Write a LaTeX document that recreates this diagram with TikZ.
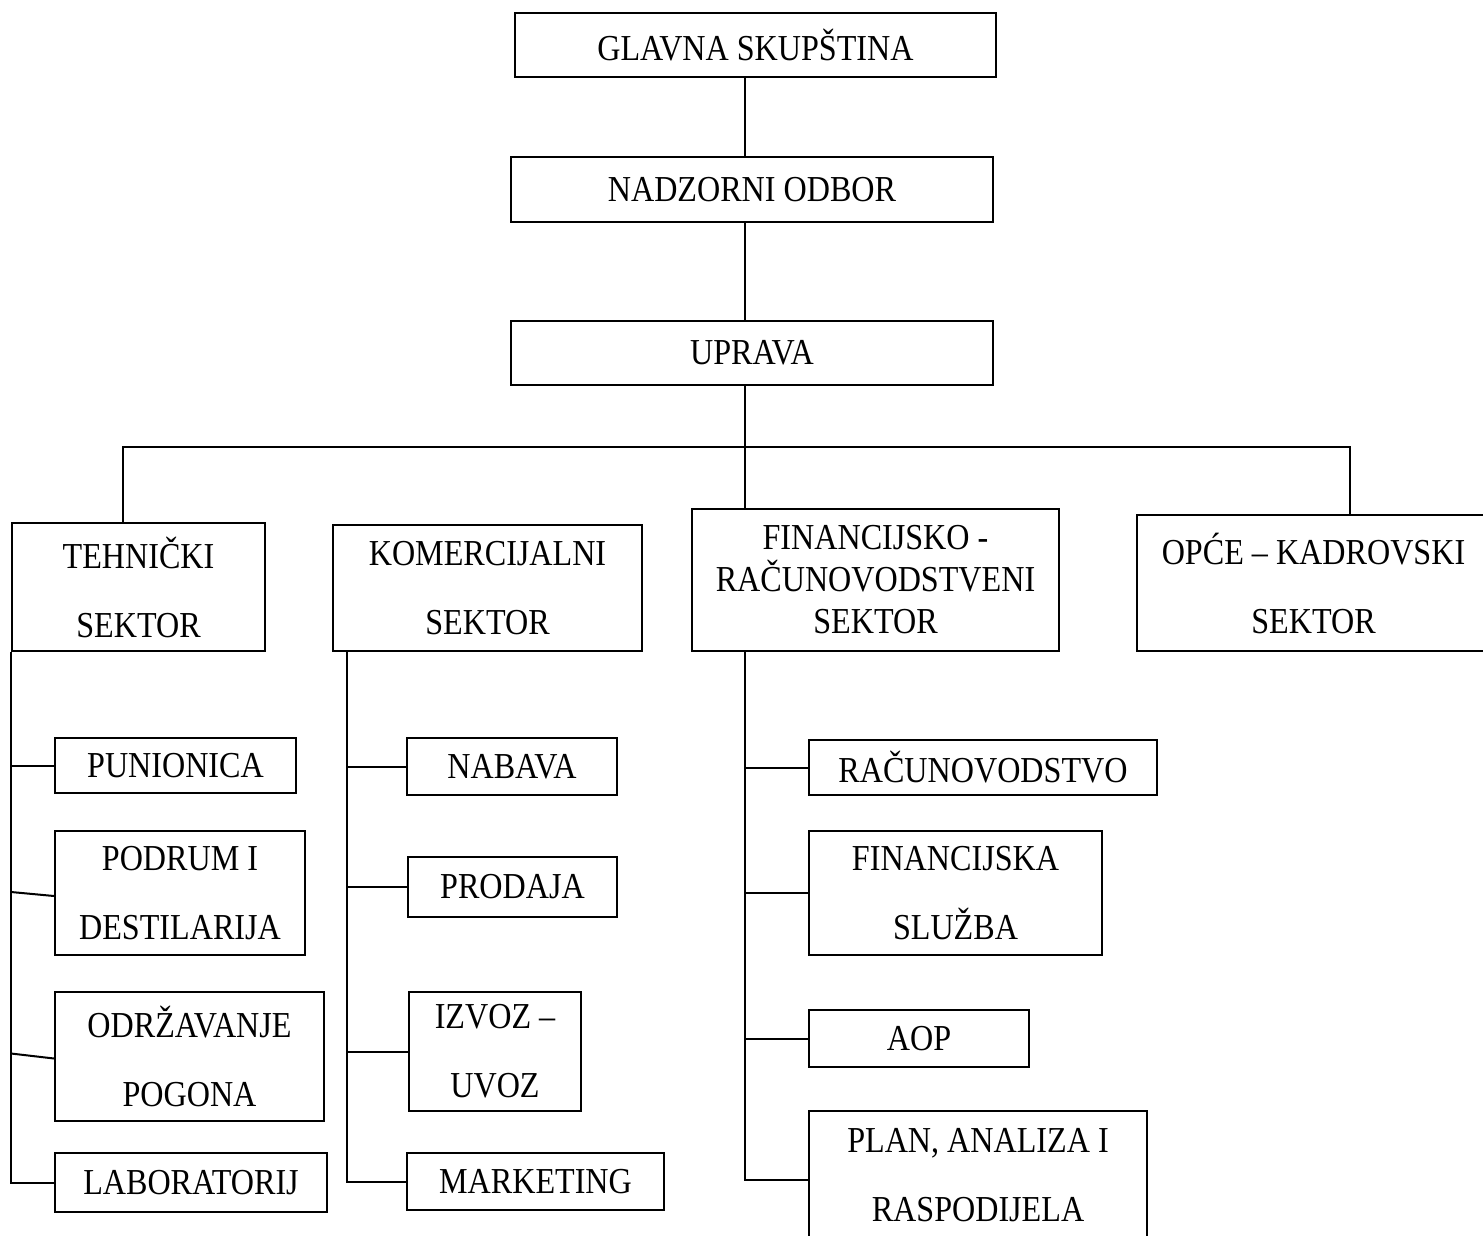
\documentclass[tikz,border=0pt]{standalone}
\usepackage{graphicx}
\usepackage{fontspec}
\setmainfont{Liberation Serif}
\newcommand{\sx}[1]{\scalebox{1.02}[1.16]{#1}}
\begin{document}
\begin{tikzpicture}[x=1pt,y=-1pt,
  box/.style={draw, line width=2pt, inner sep=0pt, align=center, font=\fontsize{31.5}{69}\selectfont},
  conn/.style={line width=2pt}]
\useasboundingbox (0,0) rectangle (1483,1236);
\clip (0,0) rectangle (1483,1236);
\fill[white] (0,0) rectangle (1483,1236);
% top
\node[box, minimum width=481pt, minimum height=64pt] (glavna) at (755.5,45) {\sx{GLAVNA SKUPŠTINA}};
\node[box, minimum width=482pt, minimum height=65pt] (nadzorni) at (752,189.5) {\sx{NADZORNI ODBOR}};
\node[box, minimum width=482pt, minimum height=64pt] (uprava) at (752,353) {\sx{UPRAVA}};
% sectors
\node[box, minimum width=253pt, minimum height=128pt] (tech) at (138.5,587) {\sx{TEHNIČKI}\\\sx{SEKTOR}};
\node[box, minimum width=309pt, minimum height=126pt] (kom) at (487.5,588) {\sx{KOMERCIJALNI}\\\sx{SEKTOR}};
\node[box, minimum width=367pt, minimum height=142pt, font=\fontsize{31.5}{42}\selectfont] (fin) at (875.5,580) {\sx{FINANCIJSKO -}\\\sx{RAČUNOVODSTVENI}\\\sx{SEKTOR}};
\node[box, minimum width=353pt, minimum height=136pt] (opce) at (1313.5,583) {\sx{OPĆE – KADROVSKI}\\\sx{SEKTOR}};
% technical
\node[box, minimum width=241pt, minimum height=55pt] (pun) at (175.5,765.5) {\sx{PUNIONICA}};
\node[box, minimum width=250pt, minimum height=124pt] (pod) at (180,893) {\sx{PODRUM I}\\\sx{DESTILARIJA}};
\node[box, minimum width=269pt, minimum height=129pt] (odr) at (189.5,1056.5) {\sx{ODRŽAVANJE}\\\sx{POGONA}};
\node[box, minimum width=272pt, minimum height=59pt] (lab) at (191,1182.5) {\sx{LABORATORIJ}};
% commercial
\node[box, minimum width=210pt, minimum height=57pt] (nab) at (512,766.5) {\sx{NABAVA}};
\node[box, minimum width=209pt, minimum height=60pt] (pro) at (512.5,887) {\sx{PRODAJA}};
\node[box, minimum width=172pt, minimum height=119pt] (izv) at (495,1051.5) {\sx{IZVOZ –}\\\sx{UVOZ}};
\node[box, minimum width=257pt, minimum height=57pt] (mar) at (535.5,1181.5) {\sx{MARKETING}};
% financial
\node[box, minimum width=348pt, minimum height=55pt] (rac) at (983,767.5) {\sx{RAČUNOVODSTVO}};
\node[box, minimum width=293pt, minimum height=124pt] (fsl) at (955.5,893) {\sx{FINANCIJSKA}\\\sx{SLUŽBA}};
\node[box, minimum width=220pt, minimum height=57pt] (aop) at (919,1038.5) {\sx{AOP}};
\node[box, minimum width=338pt, minimum height=129pt] (plan) at (978,1175.5) {\sx{PLAN, ANALIZA I}\\\sx{RASPODIJELA}};
% connectors
\coordinate (sp) at (745,447);
\coordinate (tl) at (123,447);
\coordinate (tr) at (1350,447);
\coordinate (ms) at (347,651);
\draw[conn] (glavna.south -| sp) -- (nadzorni.north -| sp);
\draw[conn] (nadzorni.south -| sp) -- (uprava.north -| sp);
\draw[conn] (uprava.south -| sp) -- (fin.north -| sp);
\draw[conn] (tech.north -| tl) -- (tl) -- (tr) -- (opce.north -| tr);
\draw[conn] (tech.south west) -- (lab.west -| tech.south west) -- (lab.west);
\draw[conn] (pun.west -| tech.south west) -- (pun.west);
\draw[conn] (pod.west -| tech.south west) ++(0,-1) -- ([yshift=-3pt]pod.west);
\draw[conn] (odr.west -| tech.south west) ++(0,-3) -- ([yshift=-2pt]odr.west);
\draw[conn] (ms) -- (mar.west -| ms) -- (mar.west);
\foreach \n in {nab,pro,izv} \draw[conn] (\n.west -| ms) -- (\n.west);
\draw[conn] (fin.south -| sp) -- ([yshift=-4pt]plan.west -| sp) -- ([yshift=-4pt]plan.west);
\foreach \n in {rac,fsl,aop} \draw[conn] (\n.west -| sp) -- (\n.west);
\end{tikzpicture}
\end{document}
